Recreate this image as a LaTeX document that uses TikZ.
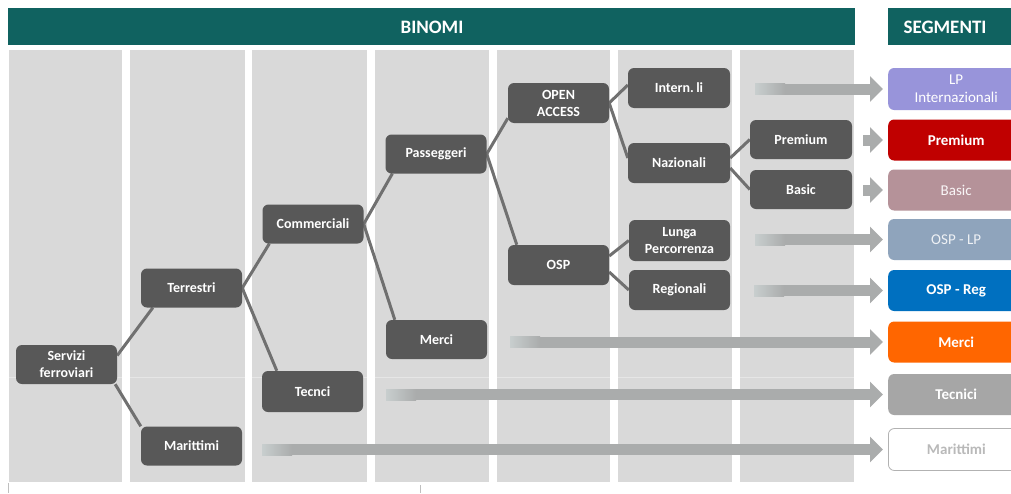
\documentclass[tikz,border=0pt]{standalone}
\usepackage{fontspec}
\setmainfont{Carlito}
\usetikzlibrary{arrows.meta,backgrounds}
\definecolor{teal1}{RGB}{16,98,96}
\definecolor{colgray}{RGB}{217,217,217}
\definecolor{ndgray}{RGB}{88,88,88}
\definecolor{lngray}{RGB}{112,112,112}
\definecolor{arrgray}{RGB}{170,172,172}
\definecolor{arrlight}{RGB}{200,206,206}
\definecolor{sLPc}{RGB}{152,148,218}
\definecolor{sPremc}{RGB}{192,0,0}
\definecolor{sBasicc}{RGB}{181,146,153}
\definecolor{sOspLPc}{RGB}{143,164,188}
\definecolor{sOspRegc}{RGB}{0,112,192}
\definecolor{sMercic}{RGB}{255,102,0}
\definecolor{sTecc}{RGB}{166,166,166}
\definecolor{sMarTxt}{RGB}{185,185,185}
\tikzset{
  nd/.style={fill=ndgray, rounded corners=6pt, text=white, align=center,
    font=\bfseries\fontsize{14}{17}\selectfont, inner sep=0pt,
    minimum width=101pt, minimum height=39pt},
  seg/.style={rounded corners=6pt, align=center, anchor=west, inner sep=0pt,
    font=\fontsize{15}{18}\selectfont, minimum width=136pt, minimum height=41pt},
  segb/.style={seg, font=\bfseries\fontsize{15}{18}\selectfont},
  hdr/.style={text=white, font=\bfseries\fontsize{19}{22}\selectfont, inner sep=0pt},
  conn/.style={draw=lngray, line width=3pt},
  arr/.style={draw=arrgray, line width=11pt, -{Triangle[length=13pt,width=25pt]}, shorten >=5pt},
  colbox/.style={fill=colgray}
}
\begin{document}
\begin{tikzpicture}[x=1pt,y=-1pt]
\useasboundingbox (0,0) rectangle (1011,493);
\clip (0,0) rectangle (1011,493);

% header bars
\fill[teal1] (8,8) rectangle (855,45);
\fill[teal1] (888,8) rectangle (1030,45);
\node[hdr] (binomi) at (432,27) {BINOMI};
\node[hdr] (segmenti) at (945,27) {SEGMENTI};

% columns
\begin{scope}[on background layer]
\fill[white] (0,0) rectangle (1011,493);
\foreach \a/\b in {9/122,130/245,252/367,375/489,497/610,618/732,740/854}{
  \fill[colbox] (\a,50) rectangle (\b,482);
  \draw[white, opacity=0.35, line width=0.8pt] (\a,377) -- (\b,377);
}
\end{scope}
\draw[black!25, line width=0.6pt] (8.5,483) -- (8.5,493);
\draw[black!25, line width=0.6pt] (420,485) -- (420,493);

% binomi nodes
\node[nd] (serv) at (66.5,364.5) {Servizi\\ferroviari};
\node[nd] (terr) at (191.5,288) {Terrestri};
\node[nd] (mari) at (191.5,446) {Marittimi};
\node[nd] (comm) at (313,224) {Commerciali};
\node[nd, minimum height=41pt] (tecn) at (312.5,391.5) {Tecnci};
\node[nd] (pass) at (436,154) {Passeggeri};
\node[nd] (merc) at (436.5,339.5) {Merci};
\node[nd, minimum height=40pt] (open) at (558.5,103) {OPEN\\ACCESS};
\node[nd, minimum height=40pt] (osp) at (558.5,265) {OSP};
\node[nd, minimum width=102pt, minimum height=40pt] (intl) at (679,88) {Intern.\,li};
\node[nd, minimum width=102pt, minimum height=40pt] (naz) at (679,163) {Nazionali};
\node[nd, minimum height=41pt] (lunga) at (679.5,240.5) {Lunga\\Percorrenza};
\node[nd, minimum height=40pt] (reg) at (679.5,290) {Regionali};
\node[nd, minimum width=102pt] (prem) at (801,139.5) {Premium};
\node[nd, minimum width=102pt] (basic) at (801,189.5) {Basic};

% segment boxes
\node[seg, fill=sLPc, text=white, minimum height=42pt] (sLP) at (888,89) {LP\\Internazionali};
\node[segb, fill=sPremc, text=white] (sPrem) at (888,140) {Premium};
\node[seg, fill=sBasicc, text=white!92!sBasicc] (sBasic) at (888,190) {Basic};
\node[seg, fill=sOspLPc, text=white!85!sOspLPc] (sOspLP) at (888,239.5) {OSP - LP};
\node[segb, fill=sOspRegc, text=white] (sOspReg) at (888,290.5) {OSP - Reg};
\node[segb, fill=sMercic, text=white] (sMerci) at (888,342) {Merci};
\node[segb, fill=sTecc, text=white] (sTec) at (888,394.5) {Tecnici};
\node[segb, fill=white, draw=black!30, line width=0.8pt, text=sMarTxt, minimum height=42pt] (sMar) at (888,449.5) {Marittimi};

% connectors
\begin{scope}[on background layer]
\draw[conn] ([yshift=9pt]serv.east) -- ([xshift=12pt]terr.south west);
\draw[conn] ([xshift=-2pt]serv.south east) -- (mari.north west);
\draw[conn] (terr.east) -- ([xshift=7pt]comm.south west);
\draw[conn] (terr.east) -- ([xshift=15pt]tecn.north west);
\draw[conn] (comm.east) -- ([xshift=7pt]pass.south west);
\draw[conn] (comm.east) -- ([xshift=9pt]merc.north west);
\draw[conn] (pass.east) -- ([yshift=5pt]open.south west);
\draw[conn] (pass.east) -- ([xshift=9pt]osp.north west);
\draw[conn] (open.east) -- ([yshift=3pt]intl.west);
\draw[conn] (open.east) -- ([yshift=5pt]naz.west);
\draw[conn] ([yshift=9pt]osp.east) -- (lunga.west);
\draw[conn] ([yshift=-7pt]osp.east) -- (reg.west);
\draw[conn] ([yshift=5pt]naz.east) -- (prem.west);
\draw[conn] ([yshift=-5pt]naz.east) -- (basic.west);
\end{scope}

% arrows
\coordinate (tLP) at (755,89);
\coordinate (tPrem) at (863,140);
\coordinate (tBasic) at (863,190);
\coordinate (tOspLP) at (755,239.5);
\coordinate (tOspReg) at (754,290.5);
\coordinate (tMerci) at (510,342);
\coordinate (tTec) at (386,394.5);
\coordinate (tMar) at (262,449.5);
\foreach \c/\s in {tLP/sLP,tPrem/sPrem,tBasic/sBasic,tOspLP/sOspLP,tOspReg/sOspReg,tMerci/sMerci,tTec/sTec,tMar/sMar}{
  \draw[arr] (\c) -- (\c -| \s.west);
}
\foreach \c in {tLP,tOspLP,tOspReg,tMerci,tTec,tMar}{
  \shade[left color=arrlight, right color=arrgray] ([yshift=5.5pt]\c) rectangle ([xshift=30pt,yshift=-5.5pt]\c);
}
\end{tikzpicture}
\end{document}
